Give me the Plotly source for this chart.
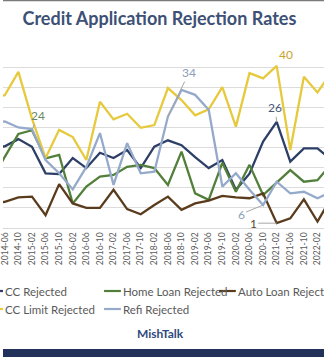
import plotly.graph_objects as go

# ---- data (every 4 months, NY Fed SCE credit access style) ----
dates = ["2014-02", "2014-06", "2014-10", "2015-02", "2015-06", "2015-10",
         "2016-02", "2016-06", "2016-10", "2017-02", "2017-06", "2017-10",
         "2018-02", "2018-06", "2018-10", "2019-02", "2019-06", "2019-10",
         "2020-02", "2020-06", "2020-10", "2021-02", "2021-06", "2021-10",
         "2022-02", "2022-06"]

cc_rejected = [20.0, 20.3, 22.1, 20.2, 13.6, 13.4, 17.4, 14.9, 18.7, 17.4, 19.4, 14.9, 20.2,
               21.8, 20.6, 17.6, 14.9, 16.9, 9.5, 13.5, 21.5, 26.4, 16.5, 19.8, 19.8, 17.0]
home_loan = [11.5, 17.7, 23.4, 24.3, 17.3, 18.2, 6.1, 10.3, 12.8, 13.2, 15.2, 15.7, 14.9,
             10.7, 19.0, 8.6, 7.0, 16.2, 9.0, 15.7, 8.2, 11.2, 14.4, 11.5, 11.9, 15.9]
auto_loan = [6.2, 6.5, 7.6, 7.8, 3.2, 10.9, 6.1, 5.0, 5.0, 9.5, 4.7, 3.4, 5.7,
             7.8, 4.5, 6.1, 6.8, 8.0, 7.6, 7.4, 8.6, 1.2, 2.4, 7.1, 1.6, 7.4]
cc_limit = [32.5, 33.0, 38.8, 27.2, 17.4, 24.4, 22.6, 16.9, 31.4, 27.0, 28.4, 24.9, 25.6,
            34.8, 31.8, 28.0, 29.5, 35.0, 25.2, 38.5, 37.2, 40.3, 19.4, 37.6, 33.7, 38.6]
refi = [26.0, 26.5, 25.0, 24.6, 16.9, 13.6, 9.6, 15.2, 23.6, 10.7, 21.1, 13.6, 14.0,
        27.7, 34.3, 33.1, 29.4, 10.3, 13.6, 9.5, 5.7, 11.5, 8.6, 9.0, 7.4, 8.9]

series_names = ["CC Rejected", "Home Loan Rejected", "Auto Loan Rejected",
                "CC Limit Rejected", "Refi Rejected"]
series_values = [cc_rejected, home_loan, auto_loan, cc_limit, refi]
series_colors = ["#2d3f66", "#52803a", "#5a3b1c", "#e6c93c", "#95aacb"]

W, H = 324, 357
MT, MB = 47, 129
PH = H - MT - MB  # plot height in px


def py(pix):  # pixel y -> paper y
    return (H - MB - pix) / PH


def px(pix):  # pixel x -> paper x
    return pix / W


fig = go.Figure()
for name, vals, col in zip(series_names, series_values, series_colors):
    fig.add_trace(go.Scatter(x=dates, y=vals, mode="lines", name=name,
                             line=dict(color=col, width=2.3), showlegend=False))

FONT = "Lato"
annos = []
# data labels with leader lines
lab = [
    (dates[3], home_loan[3], "24", "#6b8a5c", 6, -15),
    (dates[13], refi[13], "34", "#8d9dba", 21, -44),
    (dates[21], cc_rejected[21], "26", "#475779", -1.5, -14),
    (dates[20], refi[20], "6", "#8d9dba", -22, 9),
    (dates[21], auto_loan[21], "1", "#5b4631", -23.5, 0),
]
for x, y, t, c, ax, ay in lab:
    annos.append(dict(x=x, y=y, xref="x", yref="y", text=t, showarrow=True,
                      arrowhead=0, arrowwidth=1, arrowcolor="#a6a6a6",
                      ax=ax, ay=ay, standoff=0,
                      font=dict(family=FONT, size=12, color=c)))
annos.append(dict(x=dates[21], y=cc_limit[21], xref="x", yref="y", text="40",
                  showarrow=False, xshift=9.5, yshift=11,
                  font=dict(family=FONT, size=12, color="#c7a52a")))

# manual legend
leg = [
    (0, 291, -17), (1, 291, 102), (2, 291, 218),
    (3, 309, -17), (4, 309, 102),
]
shapes = []
for idx, yy, x0 in leg:
    shapes.append(dict(type="line", xref="paper", yref="paper",
                       x0=px(x0), x1=px(x0 + 17), y0=py(yy), y1=py(yy),
                       line=dict(color=series_colors[idx], width=2.2)))
    annos.append(dict(x=px(x0 + 17), y=py(yy), xref="paper", yref="paper",
                      xanchor="left", yanchor="middle", showarrow=False,
                      text=series_names[idx],
                      font=dict(family=FONT, size=11.5, color="#595959")))

annos.append(dict(x=px(159), y=py(333), xref="paper", yref="paper",
                  xanchor="center", yanchor="middle",
                  showarrow=False, text="<b>MishTalk</b>",
                  font=dict(family=FONT, size=12, color="#2f4a7c")))

# top border and bottom bar
shapes.append(dict(type="line", xref="paper", yref="paper", x0=0, x1=1,
                   y0=py(0.6), y1=py(0.6), line=dict(color="#7a7a7a", width=1.5)))
shapes.append(dict(type="rect", xref="paper", yref="paper", x0=0, x1=1,
                   y0=py(357), y1=py(349), line=dict(width=0), fillcolor="#22315a"))

fig.update_layout(
    width=W, height=H,
    margin=dict(l=0, r=0, t=MT, b=MB),
    paper_bgcolor="white", plot_bgcolor="white",
    title=dict(text="<b>Credit Application Rejection Rates</b>",
               x=0.492, xanchor="center", y=1 - 18.5 / H, yanchor="middle",
               yref="container",
               font=dict(family=FONT, size=18, color="#3d5075")),
    xaxis=dict(type="category", range=[0.869, 24.48], tickangle=-90,
               tickfont=dict(family=FONT, size=8.5, color="#595959"),
               showgrid=False, showline=True, linecolor="#d9d9d9", linewidth=1,
               ticks="", zeroline=False, fixedrange=True),
    yaxis=dict(range=[0, 45], dtick=5, showticklabels=False,
               gridcolor="#dcdcdc", gridwidth=1, zeroline=False, fixedrange=True),
    annotations=annos, shapes=shapes, showlegend=False,
)

fig.write_html("out.html")
